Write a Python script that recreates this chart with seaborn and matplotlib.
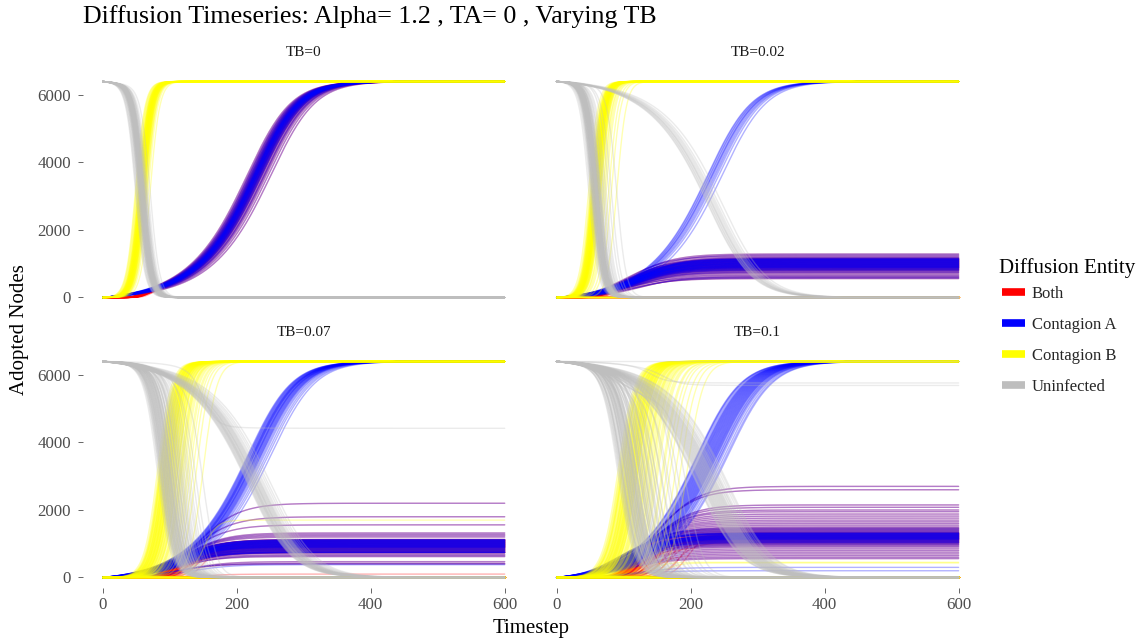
import numpy as np
import pandas as pd
import matplotlib
matplotlib.use("Agg")
import matplotlib.pyplot as plt
from matplotlib.lines import Line2D
import seaborn as sns

# ---------------------------------------------------------------------------
# Simulation summary: every run is described by the takeoff time and final
# size of contagion A and contagion B.  The four plotted series of a run are
# derived from those two adoption curves.
# ---------------------------------------------------------------------------
N_NODES = 6400
timesteps = np.arange(0, 601, 2)

panels = ["TB=0", "TB=0.02", "TB=0.07", "TB=0.1"]
entities = ["Both", "Contagion A", "Contagion B", "Uninfected"]
entity_colors = ["#FF0000", "#0000FF", "#FFFF00", "#BEBEBE"]

x_ticks = [0, 200, 400, 600]
y_ticks = [0, 2000, 4000, 6000]

# --- TB = 0 : B always takes over, A follows slowly to full coverage -------
b_mid_tb0 = [52, 55, 58, 61, 49, 57, 63, 54, 60, 66, 56, 59, 62, 53, 58, 64, 51,
             57, 60, 55, 68, 59, 62, 56, 54, 61, 58, 65, 57, 60, 50, 63, 56, 59,
             71, 55, 62, 58, 53, 60, 57, 66, 61, 54, 59, 64, 56, 58, 62, 60, 57,
             55, 61, 59, 63]
b_end_tb0 = [6400] * 55
a_mid_tb0 = [226, 230, 222, 234, 238, 228, 220, 232, 243, 227, 224, 236, 229,
             218, 241, 231, 225, 234, 248, 228, 223, 237, 230, 221, 235, 226,
             239, 232, 216, 229, 233, 227, 245, 224, 231, 236, 222, 228, 234,
             252, 226, 230, 238, 219, 232, 227, 235, 224, 229, 242, 231, 228,
             233, 226, 230]
a_end_tb0 = [6400] * 55

# --- TB = 0.02 : 12 runs where B dies out, 66 runs where B takes over ------
b_mid_tb002 = [0] * 12 + [
    50, 53, 56, 59, 62, 55, 58, 61, 64, 67, 52, 57, 60, 54, 63, 70, 56, 59,
    48, 62, 65, 58, 55, 61, 74, 57, 60, 53, 66, 59, 82, 56, 63, 58, 61, 90,
    54, 60, 57, 69, 51, 58, 62, 55, 64, 59, 72, 56, 60, 53, 65, 58, 61, 78,
    57, 54, 62, 59, 66, 60, 55, 61, 58, 64, 52, 60]
b_end_tb002 = [0] * 12 + [6400] * 66
a_mid_tb002 = [226, 232, 238, 229, 243, 234, 248, 227, 240, 233, 236, 230] + [
    112, 118, 106, 115, 121, 109, 114, 125, 103, 117, 111, 119, 108, 116, 122,
    113, 105, 120, 110, 117, 114, 126, 107, 119, 112, 115, 102, 118, 121, 109,
    116, 113, 124, 111, 106, 119, 115, 110, 117, 113, 108, 120, 114, 111, 123,
    116, 104, 118, 112, 115, 109, 121, 113, 117, 110, 119, 114, 107, 116, 112,
    118, 111, 115, 120, 109, 114]
a_end_tb002 = [6400] * 12 + [
    1290, 1260, 1230, 1200, 1180, 680, 650, 620, 600, 580, 560,
    1160, 1150, 1145, 1140, 1130, 1125, 1120, 1110, 1105, 1100, 1090, 1085,
    1080, 1070, 1065, 1060, 1050, 1045, 1040, 1030, 1025, 1020, 1010, 1005,
    1000, 990, 985, 980, 970, 965, 960, 950, 945, 940, 930, 925, 920, 910, 905,
    900, 890, 885, 880, 870, 860, 850, 840, 830, 820, 810, 800, 780, 760, 740,
    720]

# --- TB = 0.07 : 30 B-extinct runs, 1 stalled run, 68 B-takeover runs ------
b_mid_tb007 = [0] * 30 + [150] + [
    82, 88, 93, 97, 101, 85, 91, 104, 108, 95, 99, 112, 87, 94, 117, 102, 90,
    106, 123, 96, 100, 86, 110, 131, 92, 98, 115, 105, 140, 89, 103, 126, 97,
    150, 109, 84, 93, 101, 119, 90, 107, 96, 113, 88, 135, 99, 104, 92, 121,
    95, 111, 86, 102, 128, 97, 108, 91, 116, 100, 94, 98, 87, 112, 93, 105,
    118, 90, 101]
b_end_tb007 = [0] * 30 + [1700] + [6400] * 68
a_mid_tb007 = [217, 224, 230, 236, 221, 227, 233, 242, 219, 226, 231, 238, 223,
               229, 248, 220, 225, 234, 240, 228, 222, 232, 245, 226, 218, 237,
               230, 224, 252, 235] + [130] + [
    145, 135, 128, 122, 120, 118, 116, 112, 117, 110, 122, 114, 108, 119, 111,
    116, 113, 107, 121, 109, 118, 114, 106, 120, 112, 117, 110, 115, 108, 119,
    113, 111, 116, 105, 118, 112, 114, 109, 120, 115, 107, 117, 111, 113, 119,
    106, 116, 110, 114, 108, 118, 112, 115, 109, 121, 113, 111, 117, 104, 114,
    116, 110, 119, 113, 108, 115, 112, 117]
a_end_tb007 = [6400] * 30 + [380] + [
    2200, 1800, 1560, 1320, 1280, 1240, 1200, 680, 650, 620, 470, 420, 400,
    1130, 1120, 1115, 1110, 1100, 1095, 1090, 1080, 1075, 1070, 1060, 1055,
    1050, 1040, 1035, 1030, 1020, 1015, 1010, 1000, 995, 990, 980, 975, 970,
    960, 955, 950, 940, 935, 930, 920, 915, 910, 900, 895, 890, 880, 870, 860,
    850, 840, 830, 820, 810, 800, 790, 780, 770, 760, 750, 745, 740, 735, 730]

# --- TB = 0.1 : 38 B-extinct, 2 stalled, 1 idle, 75 B-takeover runs --------
b_mid_tb01 = [0] * 38 + [160, 140, 0] + [
    92, 98, 105, 110, 116, 121, 95, 102, 108, 113, 119, 126, 132, 100, 107,
    114, 138, 145, 103, 111, 124, 152, 97, 118, 129, 160, 106, 135, 170, 112,
    142, 185, 122, 195, 148, 99, 109, 117, 127, 94, 104, 115, 136, 120, 101,
    112, 158, 106, 125, 140, 96, 118, 130, 110, 165, 103, 122, 114, 178, 108,
    133, 98, 119, 150, 113, 104, 117, 128, 99, 111, 143, 121, 107, 134, 115]
b_end_tb01 = [0] * 38 + [430, 450, 0] + [6400] * 75
a_mid_tb01 = [210, 217, 223, 228, 234, 240, 246, 252, 214, 220, 225, 231, 237,
              243, 257, 212, 219, 226, 232, 238, 249, 216, 222, 229, 235, 241,
              255, 218, 224, 230, 236, 244, 221, 227, 233, 211, 239, 247] + [
    120, 110, 0] + [
    150, 146, 140, 137, 134, 131, 128, 126, 124, 122, 120, 118, 117, 116, 115,
    114, 113, 112, 111, 110, 109, 108, 107, 106, 105, 104, 103, 102, 101, 100,
    98, 96, 95, 93, 92, 118, 112, 106, 121, 109, 115, 103, 119, 110, 107, 113,
    100, 116, 111, 105, 122, 108, 114, 102, 117, 112, 104, 120, 109, 106, 115,
    111, 118, 107, 113, 112, 106, 118, 109, 114, 103, 116, 110, 120, 107]
a_end_tb01 = [6400] * 38 + [300, 200, 0] + [
    2700, 2600, 2150, 2080, 2000, 1950, 1880, 1820, 1760, 1700, 1650, 1600,
    1550, 1500, 850, 800, 750, 700, 650, 600, 560,
    1470, 1450, 1430, 1410, 1390, 1370, 1350, 1330, 1320, 1310, 1300, 1290,
    1280, 1270, 1260, 1250, 1240, 1230, 1220, 1210, 1200, 1190, 1180, 1170,
    1160, 1150, 1140, 1130, 1120, 1110, 1100, 1090, 1080, 1070, 1060, 1050,
    1040, 1030, 1020, 1000, 980, 960, 930, 900,
    1315, 1295, 1275, 1255, 1235, 1215, 1195, 1175, 1155, 1135]

# takeoff width (timesteps) of B, of A when it covers the whole network,
# and of A when it is capped by B
b_width = [7, 7, 10, 12]
a_width_full = [30, 30, 30, 30]
a_width_capped = [32, 32, 30, 30]
A_FULL_SKEW = 2.0   # slow start, sharp saturation for full-coverage runs

run_params = [
    (b_mid_tb0, b_end_tb0, a_mid_tb0, a_end_tb0),
    (b_mid_tb002, b_end_tb002, a_mid_tb002, a_end_tb002),
    (b_mid_tb007, b_end_tb007, a_mid_tb007, a_end_tb007),
    (b_mid_tb01, b_end_tb01, a_mid_tb01, a_end_tb01),
]


def adoption(t, mid, width, final, skew=1.0):
    """Richards growth curve (logistic when skew=1), pinned to 0 at t = 0."""
    def g(x):
        return (1.0 + skew * np.exp(-(x - mid) / width)) ** (-1.0 / skew)
    g0 = g(0.0)
    return final * (g(t) - g0) / (1.0 - g0)


frames = []
for p, panel in enumerate(panels):
    b_mid, b_end, a_mid, a_end = run_params[p]
    assert len(b_mid) == len(b_end) == len(a_mid) == len(a_end)
    for run in range(len(a_end)):
        if a_end[run] == N_NODES:
            a = adoption(timesteps, a_mid[run], a_width_full[p], a_end[run],
                         A_FULL_SKEW)
        else:
            a = adoption(timesteps, a_mid[run], a_width_capped[p], a_end[run])
        b = adoption(timesteps, b_mid[run], b_width[p], b_end[run])
        both = a * b / N_NODES
        uninf = N_NODES - a - b + both
        for ent, vals in zip(entities, [both, a, b, uninf]):
            frames.append(pd.DataFrame({"Panel": panel, "Run": run,
                                        "Entity": ent, "Timestep": timesteps,
                                        "Adopted": vals}))
df = pd.concat(frames, ignore_index=True)

# ---------------------------------------------------------------------------
sns.set_theme(style="white")
plt.rcParams["font.family"] = ["Liberation Serif", "DejaVu Serif"]

W, H = 1143, 642
fig = plt.figure(figsize=(W / 100, H / 100), dpi=100)
fig.patch.set_facecolor("white")

# panel boxes in pixels; heights chosen so that 0 and 6400 sit on pixel rows
col_left = [82.6, 536.5]
col_w = 442.2
row_top = [70.7, 350.7]
row_h = 237.6

palette = dict(zip(entities, entity_colors))
tick_col = "#4D4D4D"

for p, panel in enumerate(panels):
    r, c = divmod(p, 2)
    ax = fig.add_axes([col_left[c] / W, 1 - (row_top[r] + row_h) / H,
                       col_w / W, row_h / H])
    sub = df[df["Panel"] == panel]
    sns.lineplot(data=sub, x="Timestep", y="Adopted", hue="Entity",
                 hue_order=entities, palette=palette, units="Run",
                 estimator=None, sort=False, linewidth=1.0, alpha=0.3,
                 legend=False, ax=ax)
    ax.set_xlim(-30, 630)
    ax.set_ylim(-320, 6720)
    ax.set_xlabel("")
    ax.set_ylabel("")
    ax.grid(False)
    for s in ax.spines.values():
        s.set_visible(False)
    ax.set_xticks(x_ticks)
    ax.set_yticks(y_ticks)
    ax.tick_params(axis="both", which="major", direction="out", length=3.8,
                   width=0.6, color=tick_col, labelcolor=tick_col,
                   labelsize=12.2)
    ax.tick_params(axis="y", pad=4.5)
    ax.tick_params(axis="x", pad=2.5)
    ax.tick_params(left=(c == 0), labelleft=(c == 0),
                   bottom=(r == 1), labelbottom=(r == 1))
    # facet strip label
    fig.text((col_left[c] + col_w / 2) / W, 1 - (row_top[r] - 17.7) / H,
             panel, ha="center", va="center", fontsize=11, color="#1A1A1A")

fig.text(83 / W, 1 - 23.3 / H,
         "Diffusion Timeseries: Alpha= 1.2 , TA= 0 , Varying TB",
         ha="left", va="baseline", fontsize=18.7, color="black")
fig.text(531.3 / W, 1 - 628 / H, "Timestep", ha="center", va="center",
         fontsize=15, color="black")
fig.text(20 / W, 1 - 329.7 / H, "Adopted Nodes", ha="center", va="center",
         rotation=90, fontsize=15, color="black")

# legend
fig.text(999 / W, 1 - 273 / H, "Diffusion Entity", ha="left",
         va="baseline", fontsize=15, color="black")
handles = [Line2D([0], [0], color=col, lw=5.5, solid_capstyle="butt")
           for col in entity_colors]
fig.legend(handles, entities, loc="upper left",
           bbox_to_anchor=(1002 / W, 1 - 286 / H), frameon=False,
           fontsize=12, handlelength=1.4, handletextpad=0.4,
           labelspacing=0.9, borderpad=0, borderaxespad=0)

fig.savefig("out.png", dpi=100, facecolor="white")
